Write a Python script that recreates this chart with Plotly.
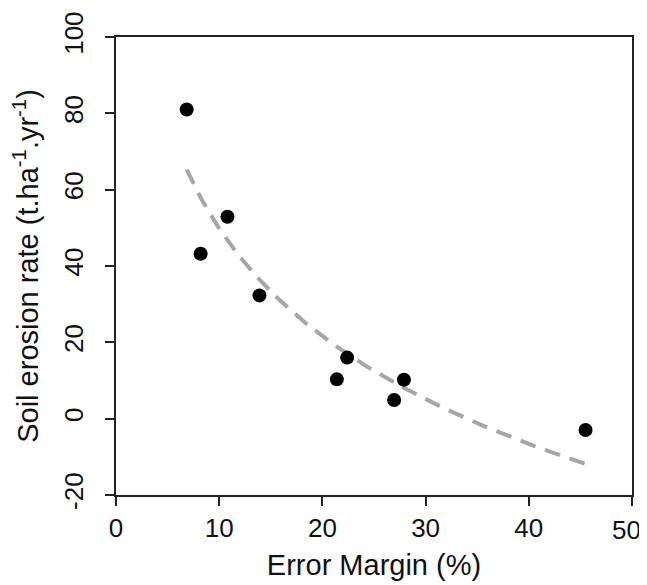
import numpy as np
import plotly.graph_objects as go

# Data
error_margin = [6.85, 8.2, 10.8, 13.9, 21.4, 22.4, 26.95, 27.9, 45.5]
erosion_rate = [81.0, 43.2, 52.9, 32.3, 10.3, 16.0, 4.9, 10.2, -2.95]

x_ticks = [0, 10, 20, 30, 40, 50]
y_ticks = [-20, 0, 20, 40, 60, 80, 100]

# Logarithmic least-squares trend line computed from the data
xa = np.array(error_margin)
ya = np.array(erosion_rate)
b, a = np.polyfit(np.log(xa), ya, 1)
fit_x = np.linspace(xa.min(), xa.max(), 200)
fit_y = a + b * np.log(fit_x)

font_family = "Liberation Sans, Arial, sans-serif"
tick_color = "#111111"

fig = go.Figure()
fig.add_trace(go.Scatter(
    x=fit_x, y=fit_y, mode="lines",
    line=dict(color="#a6a6a6", width=4, dash="16px,10px"),
    hoverinfo="skip", showlegend=False,
))
fig.add_trace(go.Scatter(
    x=error_margin, y=erosion_rate, mode="markers",
    marker=dict(color="black", size=14),
    showlegend=False,
))

# The last x tick label sits at the very edge of the window; draw it as an
# annotation nudged slightly inward so it is not clipped.
x_ticktext = [str(v) for v in x_ticks[:-1]] + [""]
fig.add_annotation(
    x=x_ticks[-1], xref="x", y=0, yref="paper",
    text=str(x_ticks[-1]), showarrow=False,
    xanchor="center", yanchor="top", xshift=-6, yshift=-18,
    font=dict(size=26, family=font_family, color=tick_color),
)

fig.update_layout(
    width=639, height=577,
    margin=dict(l=108, r=15, t=29, b=90),
    paper_bgcolor="white", plot_bgcolor="white",
    font=dict(family=font_family, color=tick_color, size=26),
)
fig.update_xaxes(
    range=[0, 50], tickvals=x_ticks, ticktext=x_ticktext,
    showgrid=False, zeroline=False, automargin=False,
    showline=True, linecolor="#222222", linewidth=2, mirror=True,
    ticks="outside", ticklen=9, tickwidth=2, tickcolor="#222222",
    tickfont=dict(size=26), ticklabelstandoff=0,
    title=dict(text="Error Margin (%)", font=dict(size=29), standoff=12),
)
fig.update_yaxes(
    range=[-20, 100], tickvals=y_ticks, ticktext=[str(v) for v in y_ticks],
    showgrid=False, zeroline=False, automargin=False,
    showline=True, linecolor="#222222", linewidth=2, mirror=True,
    ticks="outside", ticklen=9, tickwidth=2, tickcolor="#222222",
    tickangle=-90, tickfont=dict(size=26), ticklabelstandoff=12,
    title=dict(text="Soil erosion rate (t.ha<sup>-1</sup>.yr<sup>-1</sup>)",
               font=dict(size=29), standoff=22),
)

fig.write_html("out.html")
